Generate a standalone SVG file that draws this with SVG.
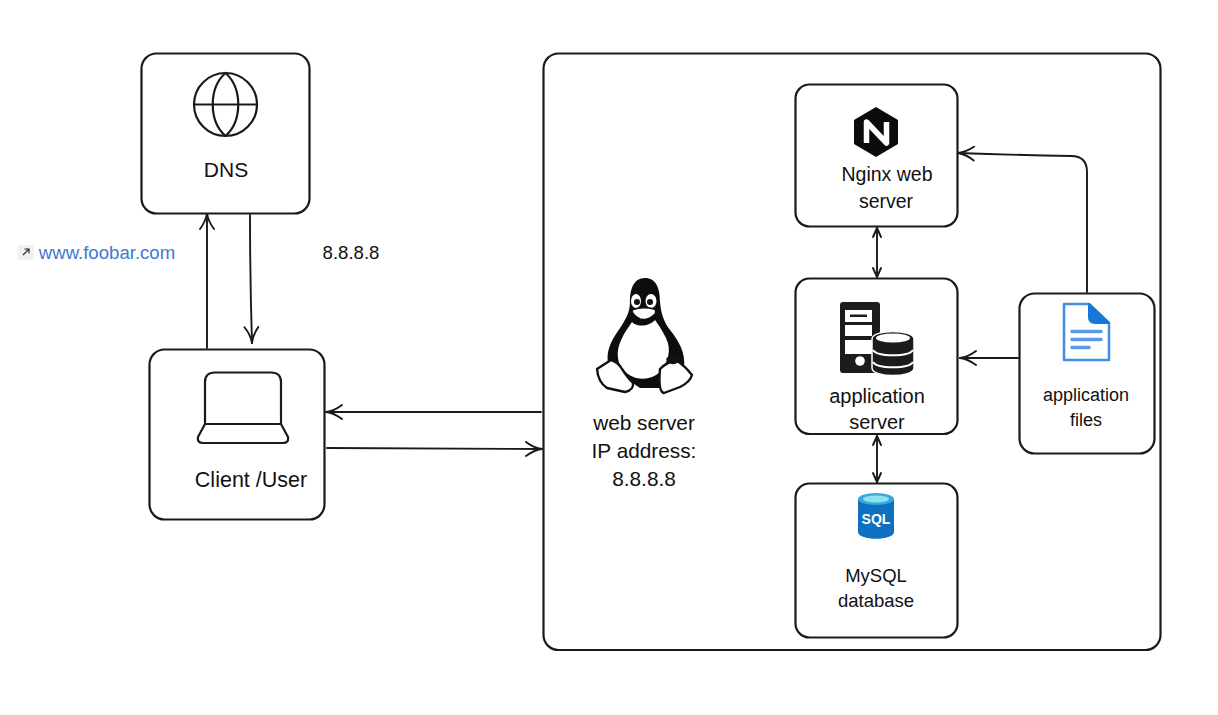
<svg xmlns="http://www.w3.org/2000/svg" width="1218" height="715" viewBox="0 0 1218 715">
<style>
.box{fill:#fff;stroke:#1a1a1a;stroke-width:2.2}
.ic{fill:none;stroke:#1a1a1a;stroke-width:2.2;stroke-linejoin:round;stroke-linecap:round}
.con{fill:none;stroke:#1a1a1a;stroke-width:1.9;stroke-linecap:round;stroke-linejoin:round}
.end{marker-end:url(#a)}
.both{marker-start:url(#b);marker-end:url(#b)}
text{font-family:"Liberation Sans",Arial,sans-serif;fill:#111;text-anchor:middle;font-size:19.500px}
</style>
<defs>
<marker id="a" viewBox="0 0 20 16" refX="18" refY="8" markerWidth="20" markerHeight="16" markerUnits="userSpaceOnUse" orient="auto-start-reverse">
<path d="M2 1 Q10 7 18 8 Q10 9 2 15" fill="none" stroke="#1a1a1a" stroke-width="1.9" stroke-linecap="round" stroke-linejoin="round"/>
</marker>
<marker id="b" viewBox="0 0 12 10" refX="11" refY="5" markerWidth="12" markerHeight="10" markerUnits="userSpaceOnUse" orient="auto-start-reverse">
<path d="M2 1 L11 5 L2 9" fill="none" stroke="#1a1a1a" stroke-width="1.9" stroke-linecap="round" stroke-linejoin="round"/>
</marker>
</defs>
<rect width="1218" height="715" fill="#fff"/>
<g id="server-frame"><rect class="box" x="543.500" y="53.500" width="617" height="596.500" rx="15"/></g>
<g id="connectors">
<path class="con end" d="M207 348V213"/>
<path class="con end" d="M250 215Q250 280 252 343"/>
<path class="con end" d="M541 412H326"/>
<path class="con end" d="M327 448L542 449"/>
<path class="con both" d="M877 228V277"/>
<path class="con both" d="M877 436V482"/>
<path class="con end" d="M1018 358H960"/>
<path class="con end" d="M1087 292V172Q1087 156 1071 156Q1015 155 958 153"/>
</g>
<g id="dns">
<rect class="box" x="141.500" y="53.500" width="168" height="160" rx="15"/>
<circle class="ic" cx="225.500" cy="104.500" r="31.500"/>
<path class="ic" d="M194 104.500H257M225.500 73C208.500 88 208.500 121 225.500 136C242.500 121 242.500 88 225.500 73"/>
<text x="226" y="177" style="font-size:21px">DNS</text>
</g>
<g id="client">
<rect class="box" x="149.500" y="349.500" width="175" height="170" rx="15"/>
<path class="ic" d="M205 424V382Q205 372.500 215 372.500H271Q281 372.500 281 382V424M205 424H281L288 437Q289 443 283 443H203Q197 443 198 437Z"/>
<text x="251" y="487" style="font-size:21.500px">Client /User</text>
</g>
<g id="link-label">
<rect x="17.500" y="245" width="16.500" height="15" rx="2" fill="#f1f1f1"/>
<path d="M23 255L29 249M24.500 249H29V253.500" fill="none" stroke="#222" stroke-width="1.100"/>
<text x="107" y="259" style="font-size:18.600px;fill:#3f78d0">www.foobar.com</text>
</g>
<g id="ip-label"><text x="351" y="259" style="font-size:18.600px">8.8.8.8</text></g>
<g id="linux">
<path fill="#0d0d0d" d="M645 278C633 278 630 290 630 302C630 314 624 322 616 334C608 346 605 358 610 368L640 388H660L684 368C686 352 678 340 670 330C664 322 661 314 660 302C660 288 656 278 645 278Z"/>
<path fill="#fff" d="M632 322C625 332 616 345 618 358C619 370 630 376 636 378Q650 381 660 372C668 362 672 350 666 338C662 330 658 324 655 320C650 326 638 328 632 322Z"/>
<ellipse cx="636" cy="301" rx="5" ry="7" fill="#fff"/><ellipse cx="651" cy="301" rx="5.500" ry="7" fill="#fff"/>
<circle cx="637" cy="302" r="3" fill="#111"/><circle cx="650" cy="302" r="3" fill="#111"/>
<path d="M632 310Q642 306 654 309Q657 311 655 314Q648 321 640 319Q632 315 632 310Z" fill="#fff" stroke="#111" stroke-width="1.500"/>
<path d="M597 369L611 360Q618 362 622 369Q628 378 633 383Q634 390 625 392L607 388Q598 382 597 369Z" fill="#fff" stroke="#111" stroke-width="2.400" stroke-linejoin="round"/>
<path d="M660 369Q667 362 676 360Q685 366 692 375Q690 382 680 387L664 393Q658 392 660 369Z" fill="#fff" stroke="#111" stroke-width="2.400" stroke-linejoin="round"/>
<path d="M666 359Q672 352 678 356Q682 362 675 364Q668 365 666 359Z" fill="#111"/>
<text x="644" y="430" style="font-size:20.800px">web server</text>
<text x="644" y="458" style="font-size:20.800px">IP address:</text>
<text x="644" y="486" style="font-size:20.800px">8.8.8.8</text>
</g>
<g id="nginx">
<rect class="box" x="795.500" y="84.500" width="162" height="142" rx="14"/>
<path fill="#0b0b0b" d="M876 107L898 120V144L876 157L854 144V120Z"/>
<path d="M866.500 143V122L886.500 143V122" fill="none" stroke="#fff" stroke-width="5.500" stroke-linejoin="round"/>
<text x="887" y="181">Nginx web</text>
<text x="886" y="208">server</text>
</g>
<g id="app-server">
<rect class="box" x="795.500" y="278.500" width="162" height="155.500" rx="14"/>
<rect x="840" y="302" width="40" height="71" rx="3" fill="#1c1c1c"/>
<rect x="845" y="310" width="27" height="12" fill="#fff"/><rect x="850" y="314.500" width="17" height="2.500" fill="#1c1c1c"/>
<rect x="845" y="325" width="27" height="11" fill="#fff"/>
<rect x="845" y="340" width="27" height="14" fill="#fff"/>
<circle cx="860" cy="361" r="4.800" fill="#fff"/>
<path fill="#1c1c1c" stroke="#fff" stroke-width="1.500" d="M872 339C872 329 914 329 914 339V368C914 378 872 378 872 368Z"/>
<ellipse cx="893" cy="338" rx="17" ry="4.500" fill="#fff"/>
<path d="M873 350C877 357 909 357 913 350M873 362C877 369 909 369 913 362" fill="none" stroke="#fff" stroke-width="2"/>
<text x="877" y="403" style="font-size:20px">application</text>
<text x="877" y="429" style="font-size:20px">server</text>
</g>
<g id="app-files">
<rect class="box" x="1019.500" y="293.500" width="135" height="160" rx="15"/>
<path d="M1064 304H1089L1109 323V360H1064Z" fill="#fff" stroke="#3f8ee0" stroke-width="2.500" stroke-linejoin="round"/>
<path d="M1089 304V317Q1089 323 1095 323H1109Z" fill="#1578d6" stroke="#1578d6" stroke-width="2" stroke-linejoin="round"/>
<path d="M1072 331.500H1101M1072 339.500H1101M1072 347.500H1089" stroke="#5a9be6" stroke-width="3.500" stroke-linecap="round"/>
<text x="1086" y="401" style="font-size:18px">application</text>
<text x="1086" y="426" style="font-size:18px">files</text>
</g>
<g id="mysql">
<rect class="box" x="795.500" y="483.500" width="162" height="154" rx="14"/>
<path d="M858 499V532C858 541 894 541 894 532V499Z" fill="#0f6fc0"/>
<ellipse cx="876" cy="499" rx="18" ry="6" fill="#3aa8d8"/>
<ellipse cx="876" cy="499" rx="13" ry="3.500" fill="#8fe3f0"/>
<text x="876" y="524" style="font-size:14px;font-weight:700;fill:#fff">SQL</text>
<text x="876" y="582" style="font-size:18.500px">MySQL</text>
<text x="876" y="607" style="font-size:18.500px">database</text>
</g>
</svg>
